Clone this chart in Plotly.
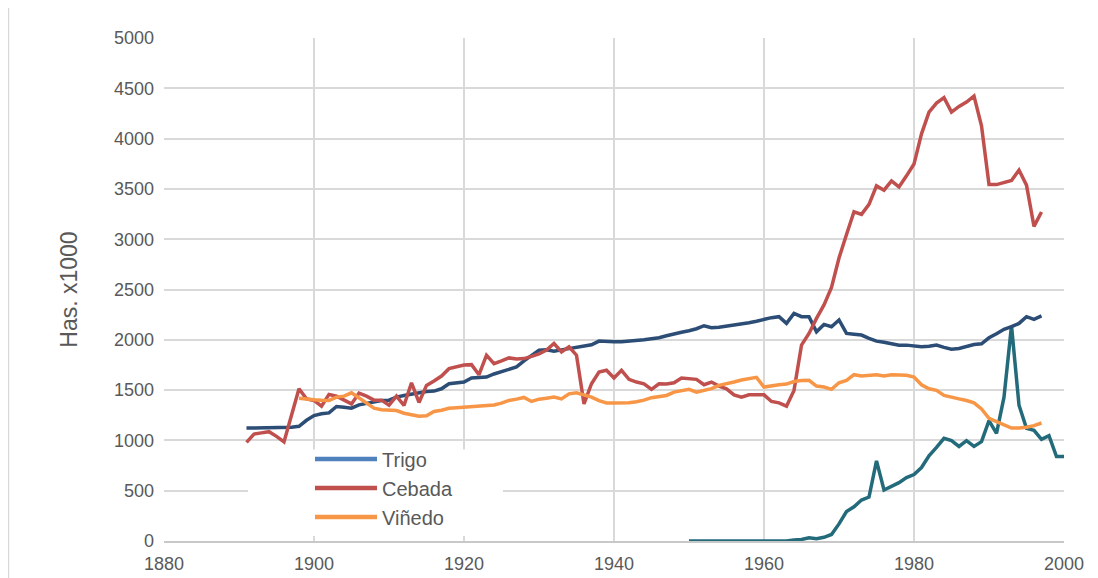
import plotly.graph_objects as go

# ---------------- data ----------------
trigo_years = list(range(1891, 1998))
trigo = [1123, 1123, 1123, 1123, 1123, 1123, 1130, 1140, 1200, 1247,
         1265, 1273, 1337, 1330, 1320, 1353, 1370, 1385, 1397, 1400,
         1430, 1447, 1460, 1480, 1485, 1490, 1513, 1563, 1575, 1580,
         1620, 1625, 1630, 1660, 1685, 1705, 1730, 1790, 1840, 1897,
         1900, 1887, 1900, 1913, 1925, 1935, 1950, 1987, 1980, 1980,
         1980, 1985, 1995, 2000, 2010, 2020, 2040, 2060, 2075, 2090,
         2110, 2140, 2120, 2125, 2135, 2153, 2160, 2170, 2185, 2205,
         2220, 2230, 2163, 2263, 2230, 2230, 2080, 2153, 2130, 2197,
         2063, 2055, 2047, 2015, 1987, 1975, 1963, 1945, 1947, 1940,
         1930, 1935, 1947, 1925, 1907, 1913, 1935, 1953, 1960, 2020,
         2060, 2105, 2130, 2163, 2230, 2203, 2237]

cebada_years = list(range(1891, 1998))
cebada = [980, 1063, 1075, 1087, 1040, 985, 1250, 1513, 1413, 1397,
          1340, 1457, 1440, 1400, 1363, 1470, 1440, 1400, 1400, 1350,
          1440, 1347, 1573, 1377, 1547, 1590, 1640, 1713, 1730, 1750,
          1753, 1653, 1847, 1763, 1790, 1820, 1810, 1813, 1835, 1860,
          1897, 1963, 1880, 1930, 1847, 1363, 1563, 1680, 1697, 1620,
          1697, 1607, 1580, 1563, 1507, 1563, 1560, 1573, 1620, 1610,
          1607, 1553, 1580, 1540, 1513, 1453, 1430, 1453, 1453, 1453,
          1387, 1373, 1340, 1497, 1947, 2063, 2213, 2347, 2520, 2813,
          3047, 3273, 3247, 3347, 3530, 3487, 3580, 3520, 3630, 3747,
          4047, 4263, 4353, 4407, 4263, 4320, 4363, 4423, 4127, 3543,
          3543, 3560, 3583, 3687, 3537, 3127, 3270]

vinedo_years = list(range(1898, 1998))
vinedo = [1420, 1410, 1405, 1400, 1397, 1430, 1440, 1473, 1420, 1370,
          1320, 1305, 1300, 1297, 1270, 1255, 1240, 1245, 1287, 1300,
          1320, 1325, 1330, 1335, 1345, 1350, 1353, 1370, 1397, 1410,
          1427, 1387, 1410, 1420, 1430, 1413, 1463, 1473, 1450, 1430,
          1395, 1373, 1373, 1373, 1375, 1385, 1400, 1425, 1435, 1447,
          1480, 1495, 1507, 1480, 1500, 1515, 1547, 1560, 1580, 1600,
          1613, 1627, 1530, 1545, 1553, 1560, 1585, 1595, 1597, 1540,
          1530, 1507, 1573, 1597, 1653, 1640, 1645, 1653, 1640, 1653,
          1650, 1647, 1630, 1553, 1513, 1497, 1447, 1427, 1413, 1397,
          1373, 1313, 1220, 1187, 1153, 1123, 1123, 1130, 1147, 1173]

girasol_years = list(range(1950, 2001))
girasol = [0, 0, 0, 0, 0, 0, 0, 0, 0, 0,
           0, 0, 0, 0, 10, 15, 33, 23, 37, 65,
           170, 293, 340, 407, 437, 797, 507, 547, 580, 630,
           660, 730, 847, 930, 1020, 997, 940, 997, 940, 987,
           1197, 1070, 1430, 2140, 1350, 1120, 1100, 1010, 1047, 840,
           840]

x_ticks = [1880, 1900, 1920, 1940, 1960, 1980, 2000]
y_ticks = [0, 500, 1000, 1500, 2000, 2500, 3000, 3500, 4000, 4500, 5000]

# ---------------- figure ----------------
TXT = "#595959"
GRID = "#d9d9d9"
FONT = "Liberation Sans, Arial, sans-serif"

fig = go.Figure()

series = [
    ("Trigo", trigo_years, trigo, "#2c4d75", "#4f81bd"),
    ("Cebada", cebada_years, cebada, "#c0504d", "#c0504d"),
    ("Viñedo", vinedo_years, vinedo, "#f79646", "#f79646"),
]

# legend-only entries (legend colours as in the original)
for name, xs, ys, col, lcol in series:
    fig.add_trace(go.Scatter(x=[None], y=[None], mode="lines", name=name,
                             line=dict(color=lcol, width=4.5),
                             legendgroup=name, showlegend=True, hoverinfo="skip"))

fig.add_trace(go.Scatter(x=girasol_years, y=girasol, mode="lines", name="Girasol",
                         line=dict(color="#236b7a", width=3.5), showlegend=False))
for name, xs, ys, col, lcol in series:
    fig.add_trace(go.Scatter(x=xs, y=ys, mode="lines", name=name,
                             line=dict(color=col, width=3.5),
                             legendgroup=name, showlegend=False))

# the page adds an 8px body margin, so the figure starts at (8, 8)
OFF = 8
W, H = 1090, 578
ml, mr, mt, mb = 156, 34, 30, 42
EFF_H = H - 6  # rendered height
pw, ph = W - ml - mr, EFF_H - mt - mb


def px_x(p):
    return (p - OFF - ml) / pw


def px_y(p):
    return (EFF_H - mb - (p - OFF)) / ph


fig.update_layout(
    width=W, height=H,
    margin=dict(l=ml, r=mr, t=mt, b=mb),
    paper_bgcolor="white", plot_bgcolor="white",
    font=dict(family=FONT, color=TXT, size=16),
    showlegend=True,
    legend=dict(
        x=px_x(310), y=px_y(437), xanchor="left", yanchor="top",
        bgcolor="rgba(0,0,0,0)", borderwidth=0,
        font=dict(size=20, color=TXT, family=FONT),
        tracegroupgap=0, itemwidth=62,
    ),
    xaxis=dict(
        range=[1880, 2000], tickvals=x_ticks, ticktext=[str(v) for v in x_ticks],
        showgrid=True, gridcolor=GRID, gridwidth=2,
        showline=True, linecolor="#c8c8c8", linewidth=2,
        zeroline=False, ticks="", ticklabelstandoff=5,
        tickfont=dict(size=18, color=TXT),
    ),
    yaxis=dict(
        range=[0, 5000], tickvals=y_ticks, ticktext=[str(v) for v in y_ticks],
        showgrid=True, gridcolor=GRID, gridwidth=2,
        zeroline=False, showline=False, ticks="", ticklabelstandoff=9,
        tickfont=dict(size=18, color=TXT),
        title=dict(text="Has. x1000", font=dict(size=23, color=TXT), standoff=29),
    ),
    shapes=[
        # white legend box hiding gridlines
        dict(type="rect", xref="paper", yref="paper",
             x0=px_x(248), x1=px_x(503), y0=px_y(533), y1=px_y(447),
             fillcolor="white", line=dict(width=0), layer="above"),
        # outer chart frame (left edge)
        dict(type="line", xref="paper", yref="paper",
             x0=px_x(8.5), x1=px_x(8.5), y0=px_y(600), y1=px_y(0),
             line=dict(color=GRID, width=1.5)),
    ],
)

fig.write_html("out.html")
